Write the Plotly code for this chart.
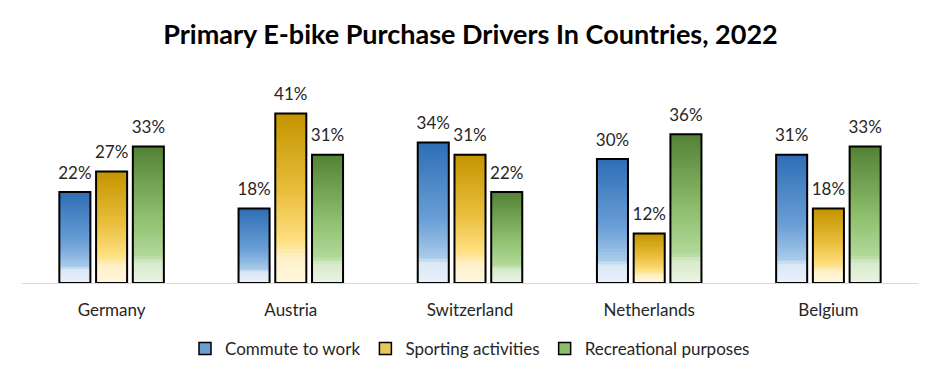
import plotly.graph_objects as go

countries = ["Germany", "Austria", "Switzerland", "Netherlands", "Belgium"]
series_names = ["Commute to work", "Sporting activities", "Recreational purposes"]
commute = [22, 18, 34, 30, 31]
sporting = [27, 41, 31, 12, 18]
recreational = [33, 31, 22, 36, 33]
values = [commute, sporting, recreational]

# gradient stops: (fraction from bottom, colour)
grads = [
    [(0.0, "#E9F1FA"), (0.15, "#DAE7F5"), (0.18, "#A9CBEA"), (0.45, "#6A9FD6"), (1.0, "#2E6EB5")],
    [(0.0, "#FFF7E0"), (0.15, "#FFF0C8"), (0.25, "#FFDF80"), (0.55, "#E8BD3A"), (1.0, "#C49400")],
    [(0.0, "#E9F4E2"), (0.15, "#D8EACB"), (0.2, "#B2D89A"), (0.5, "#8CBE6C"), (1.0, "#538135")],
]
legend_cols = ["#6A9FD6", "#E8C85A", "#8CBE6C"]


def hex2rgb(h):
    h = h.lstrip("#")
    return tuple(int(h[i:i + 2], 16) for i in (0, 2, 4))


def interp(stops, f):
    for (f0, c0), (f1, c1) in zip(stops[:-1], stops[1:]):
        if f0 <= f <= f1:
            t = (f - f0) / (f1 - f0) if f1 > f0 else 0
            a, b = hex2rgb(c0), hex2rgb(c1)
            return "rgb(%d,%d,%d)" % tuple(round(a[i] + (b[i] - a[i]) * t) for i in range(3))
    return stops[-1][1]


N = 40
fig = go.Figure()
for si, name in enumerate(series_names):
    vals = values[si]
    for k in range(N):
        f0 = k / N
        # each slice runs from its start to the top; later slices overlay earlier ones
        fig.add_trace(go.Bar(
            x=countries, y=[v * (1 - f0) for v in vals], base=[v * f0 for v in vals],
            offsetgroup=str(si), marker=dict(color=interp(grads[si], f0 + 0.5 / N), line=dict(width=0)),
            showlegend=False, hoverinfo="skip"))
    fig.add_trace(go.Bar(
        x=countries, y=vals, offsetgroup=str(si),
        marker=dict(color="rgba(0,0,0,0)", line=dict(color="black", width=2)),
        showlegend=False))
    # value labels: invisible markers push the text a little above each bar
    fig.add_trace(go.Scatter(
        x=countries, y=vals, offsetgroup=str(si), mode="markers+text",
        marker=dict(size=13, opacity=0), text=[f"{v}%" for v in vals], textposition="top center",
        textfont=dict(size=17, color="#262626"), cliponaxis=False, showlegend=False, hoverinfo="skip"))
    fig.add_trace(go.Bar(
        x=countries, y=[None] * len(countries), offsetgroup=str(si), name=name,
        marker=dict(color=legend_cols[si], line=dict(color="black", width=1.5)), showlegend=True))

fig.update_layout(
    width=925, height=364,
    barmode="group", bargap=0.385, bargroupgap=0.155,
    scattermode="group", scattergap=0.385,
    plot_bgcolor="white", paper_bgcolor="white",
    font=dict(family="Lato", size=17, color="#262626"),
    margin=dict(l=14, r=15, t=89, b=89, autoexpand=False),
    title=dict(text="<b>Primary E-bike Purchase Drivers In Countries, 2022</b>",
               x=0.5, xanchor="center", y=0.926, yanchor="middle", font=dict(size=27, color="black")),
    legend=dict(orientation="h", x=0.5, xanchor="center", yref="container", y=0.063, yanchor="middle",
                font=dict(size=17), traceorder="normal"),
)
fig.update_xaxes(showline=True, linecolor="#D9D9D9", linewidth=1, ticks="", showgrid=False,
                 tickfont=dict(size=17), ticklabelstandoff=12)
fig.update_yaxes(range=[0, 45], visible=False, showgrid=False, zeroline=False)
fig.write_html("out.html")
